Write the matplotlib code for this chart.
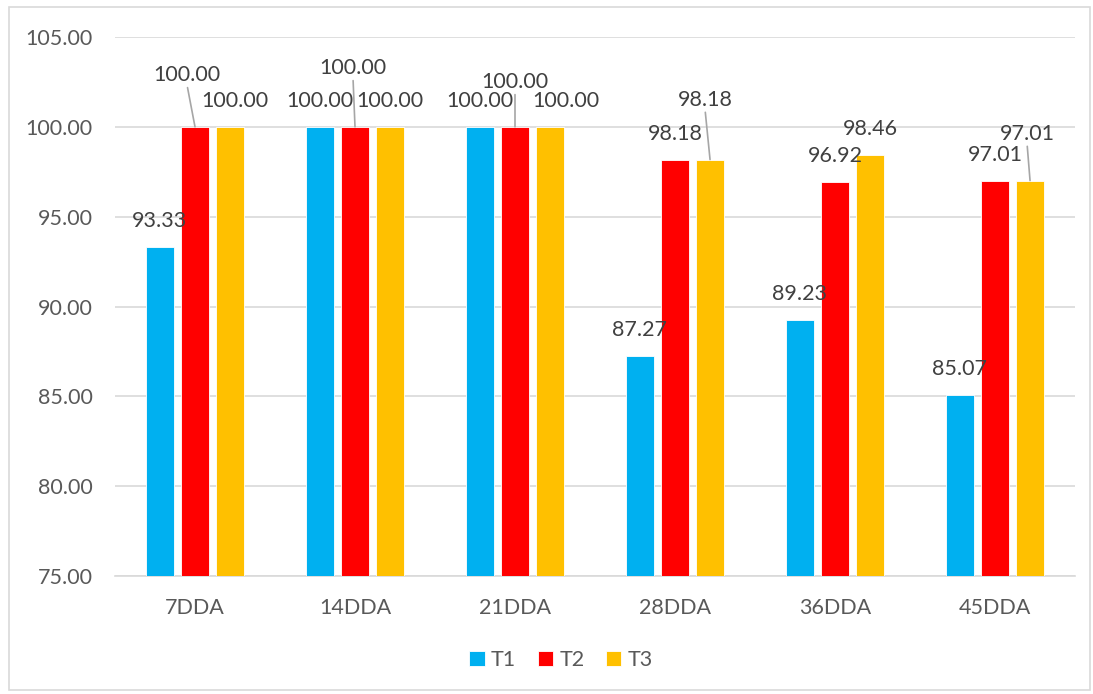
import numpy as np
import matplotlib
matplotlib.use('Agg')
import matplotlib.pyplot as plt
from matplotlib.patches import Rectangle

# data
days = ['7DDA', '14DDA', '21DDA', '28DDA', '36DDA', '45DDA']
t1 = [93.33, 100.00, 100.00, 87.27, 89.23, 85.07]
t2 = [100.00, 100.00, 100.00, 98.18, 96.92, 97.01]
t3 = [100.00, 100.00, 100.00, 98.18, 98.46, 97.01]
series_names = ['T1', 'T2', 'T3']
colors = ['#00B0F0', '#FF0000', '#FFC000']

# label offsets in pixels (dx, dy) from bar top; leader line if moved far
label_offsets = {
    (0, 1): (-8, 52), (1, 1): (-2, 59), (2, 1): (0, 45),
    (3, 2): (-5, 60), (5, 2): (-3, 47),
    (0, 2): (5, 26), (2, 2): (16, 26),
}

plt.rcParams['font.family'] = ['Lato', 'DejaVu Sans']
fs = 15.5

fig = plt.figure(figsize=(10.93, 6.94), dpi=100)
ax = fig.add_axes([115/1093, 1-576/694, 960/1093, 539/694])

x = np.arange(len(days))
w = 0.175
step = 0.219
all_series = [t1, t2, t3]
for i, vals in enumerate(all_series):
    ax.bar(x + (i-1)*step, vals, w, bottom=0, color=colors[i], label=series_names[i],
           zorder=3, edgecolor='white', linewidth=0.6)

ax.set_ylim(75, 105)
ax.set_xlim(-0.5, len(days)-0.5)
ax.set_yticks(np.arange(75, 106, 5))
ax.set_yticklabels(['%.2f' % v for v in np.arange(75, 106, 5)])
ax.set_xticks(x)
ax.set_xticklabels(days)
ax.tick_params(axis='both', length=0, labelsize=fs, labelcolor='#595959')
ax.tick_params(axis='x', pad=16)
ax.tick_params(axis='y', pad=16)
ax.grid(axis='y', color='#D9D9D9', linewidth=1.2, zorder=0)
for s in ['top', 'right', 'left']:
    ax.spines[s].set_visible(False)
ax.spines['bottom'].set_color('#D9D9D9')
ax.spines['bottom'].set_linewidth(1.2)

# data labels
for i, vals in enumerate(all_series):
    for j, v in enumerate(vals):
        dx, dy = label_offsets.get((j, i), (0, 26))
        arrow = None
        if dy > 40:
            arrow = dict(arrowstyle='-', color='#A6A6A6', lw=1.2,
                         shrinkA=0, shrinkB=0, relpos=(0.5, 0))
        ax.annotate('%.2f' % v, xy=(x[j] + (i-1)*step, v), xytext=(dx, dy),
                    textcoords='offset pixels', ha='center', va='center',
                    fontsize=fs, color='#404040', arrowprops=arrow, zorder=5)

fig.legend(loc='center', bbox_to_anchor=(561/1093, 1-660/694), ncol=3, frameon=False,
           fontsize=fs, labelcolor='#595959', handlelength=0.7, handleheight=0.7,
           handletextpad=0.3, columnspacing=1.0)

fig.patches.append(Rectangle((9/1093, 4/694), 1081/1093, 683/694, transform=fig.transFigure,
                             fill=False, edgecolor='#D9D9D9', linewidth=1.2))

fig.savefig('out.png', dpi=100)
